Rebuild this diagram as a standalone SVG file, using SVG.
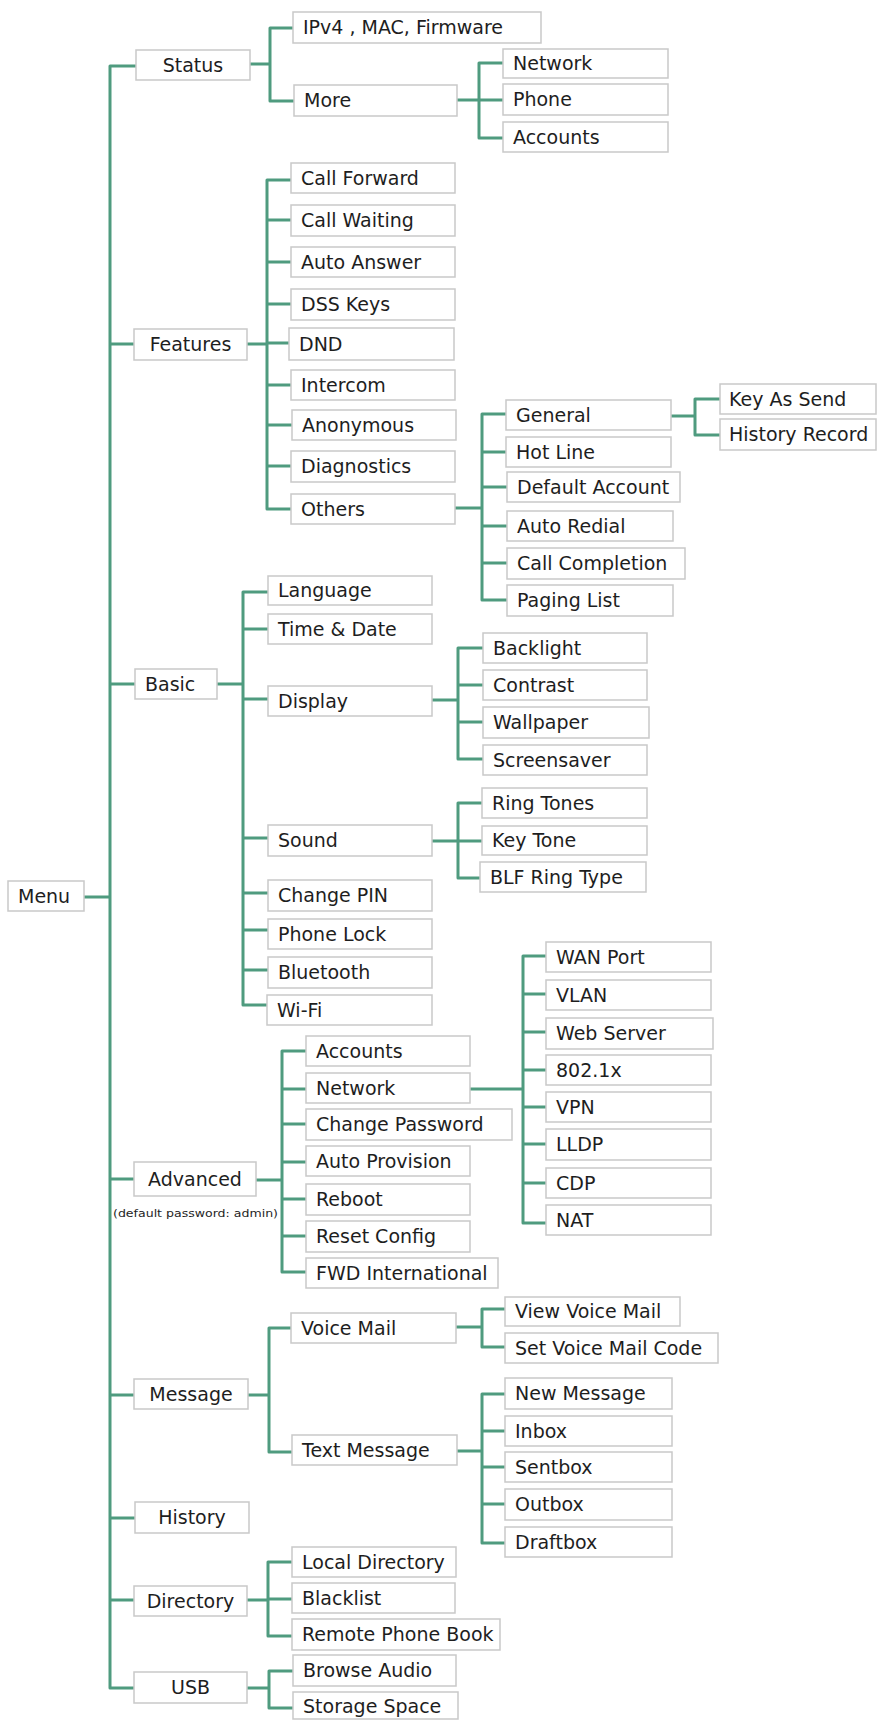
<svg xmlns="http://www.w3.org/2000/svg" width="877" height="1720" viewBox="0 0 877 1720">
<style>
.b{fill:#fff;stroke:#c9c9c9;stroke-width:1.5}
.t{font-family:"DejaVu Sans",sans-serif;font-size:19px;fill:#1e1e1e}
.c{text-anchor:middle}
.s{font-family:"DejaVu Sans",sans-serif;font-size:11px;fill:#1e1e1e}
#connectors path{fill:none;stroke:#4f9b7f;stroke-width:3;stroke-linejoin:round}
</style>
<rect width="877" height="1720" fill="#fff"/>
<g id="connectors">
<path d="M136,66 H110 V1688 H134 M110,344 H134 M110,684 H135 M84,897 H110 M110,1179 H134 M110,1395 H134 M110,1518 H135 M110,1600 H134"/>
<path d="M250,64 H270 M293,28 H270 V101 H294"/>
<path d="M457,100 H479 M503,63 H479 V138 H503 M479,100 H503"/>
<path d="M247,344 H267 M291,180 H267 V509 H291 M267,220 H291 M267,262 H291 M267,304 H291 M267,343 H289 M267,385 H291 M267,425 H292 M267,466 H291"/>
<path d="M455,508 H482 M506,414 H482 V600 H507 M482,452 H506 M482,487 H507 M482,526 H507 M482,563 H507"/>
<path d="M671,416 H695 M720,399 H695 V435 H720"/>
<path d="M217,684 H243 M268,592 H243 V1005 H267 M243,629 H268 M243,699 H268 M243,838 H268 M243,893 H268 M243,930 H268 M243,970 H268"/>
<path d="M432,700 H458 M483,648 H458 V759 H483 M458,685 H483 M458,722 H483"/>
<path d="M432,841 H458 M482,803 H458 V878 H480 M458,841 H482"/>
<path d="M256,1180 H282 M306,1051 H282 V1272 H306 M282,1089 H306 M282,1124 H306 M282,1162 H306 M282,1199 H306 M282,1236 H306"/>
<path d="M470,1089 H523 M546,956 H523 V1223 H546 M523,994 H546 M523,1032 H546 M523,1070 H546 M523,1107 H546 M523,1144 H546 M523,1183 H546"/>
<path d="M248,1395 H269 M291,1328 H269 V1452 H292"/>
<path d="M456,1327 H482 M505,1309 H482 V1347 H505"/>
<path d="M457,1451 H482 M505,1394 H482 V1543 H505 M482,1431 H505 M482,1467 H505 M482,1504 H505"/>
<path d="M247,1600 H268 M292,1562 H268 V1636 H292 M268,1599 H292"/>
<path d="M247,1688 H269 M293,1671 H269 V1708 H293"/>
</g>
<g id="n-menu"><rect class="b" x="8" y="881" width="76" height="30"/><text class="t" x="18" y="903">Menu</text></g>
<g id="n-status"><rect class="b" x="136" y="50" width="114" height="30"/><text class="t c" x="193" y="72">Status</text></g>
<g id="n-features"><rect class="b" x="134" y="329" width="113" height="31"/><text class="t c" x="190.5" y="351">Features</text></g>
<g id="n-basic"><rect class="b" x="135" y="669" width="82" height="30"/><text class="t" x="145" y="691">Basic</text></g>
<g id="n-advanced"><rect class="b" x="134" y="1162" width="122" height="34"/><text class="t c" x="195" y="1186">Advanced</text><text class="s" x="113" y="1217" textLength="165" lengthAdjust="spacingAndGlyphs">(default password: admin)</text></g>
<g id="n-message"><rect class="b" x="134" y="1379" width="114" height="30"/><text class="t c" x="191" y="1401">Message</text></g>
<g id="n-history"><rect class="b" x="135" y="1502" width="114" height="31"/><text class="t c" x="192" y="1524">History</text></g>
<g id="n-directory"><rect class="b" x="134" y="1586" width="113" height="30"/><text class="t c" x="190.5" y="1608">Directory</text></g>
<g id="n-usb"><rect class="b" x="134" y="1672" width="113" height="31"/><text class="t c" x="190.5" y="1694">USB</text></g>

<g id="n-ipv4"><rect class="b" x="293" y="12" width="248" height="31"/><text class="t" x="303" y="34">IPv4 , MAC, Firmware</text></g>
<g id="n-more"><rect class="b" x="294" y="85" width="163" height="31"/><text class="t" x="304" y="107">More</text></g>
<g id="n-more-network"><rect class="b" x="503" y="49" width="165" height="29"/><text class="t" x="513" y="70">Network</text></g>
<g id="n-more-phone"><rect class="b" x="503" y="84" width="165" height="31"/><text class="t" x="513" y="106">Phone</text></g>
<g id="n-more-accounts"><rect class="b" x="503" y="122" width="165" height="30"/><text class="t" x="513" y="144">Accounts</text></g>

<g id="n-callforward"><rect class="b" x="291" y="163" width="164" height="30"/><text class="t" x="301" y="185">Call Forward</text></g>
<g id="n-callwaiting"><rect class="b" x="291" y="205" width="164" height="31"/><text class="t" x="301" y="227">Call Waiting</text></g>
<g id="n-autoanswer"><rect class="b" x="291" y="247" width="164" height="30"/><text class="t" x="301" y="269">Auto Answer</text></g>
<g id="n-dsskeys"><rect class="b" x="291" y="289" width="164" height="31"/><text class="t" x="301" y="311">DSS Keys</text></g>
<g id="n-dnd"><rect class="b" x="289" y="328" width="165" height="32"/><text class="t" x="299" y="351">DND</text></g>
<g id="n-intercom"><rect class="b" x="291" y="370" width="164" height="30"/><text class="t" x="301" y="392">Intercom</text></g>
<g id="n-anonymous"><rect class="b" x="292" y="410" width="164" height="30"/><text class="t" x="302" y="432">Anonymous</text></g>
<g id="n-diagnostics"><rect class="b" x="291" y="451" width="164" height="31"/><text class="t" x="301" y="473">Diagnostics</text></g>
<g id="n-others"><rect class="b" x="291" y="494" width="164" height="30"/><text class="t" x="301" y="516">Others</text></g>

<g id="n-general"><rect class="b" x="506" y="400" width="165" height="30"/><text class="t" x="516" y="422">General</text></g>
<g id="n-hotline"><rect class="b" x="506" y="437" width="165" height="30"/><text class="t" x="516" y="459">Hot Line</text></g>
<g id="n-defaultaccount"><rect class="b" x="507" y="472" width="173" height="30"/><text class="t" x="517" y="494">Default Account</text></g>
<g id="n-autoredial"><rect class="b" x="507" y="511" width="166" height="30"/><text class="t" x="517" y="533">Auto Redial</text></g>
<g id="n-callcompletion"><rect class="b" x="507" y="548" width="178" height="31"/><text class="t" x="517" y="570">Call Completion</text></g>
<g id="n-paginglist"><rect class="b" x="507" y="585" width="166" height="31"/><text class="t" x="517" y="607">Paging List</text></g>
<g id="n-keyassend"><rect class="b" x="720" y="384" width="156" height="30"/><text class="t" x="729" y="406">Key As Send</text></g>
<g id="n-historyrecord"><rect class="b" x="720" y="419" width="156" height="31"/><text class="t" x="729" y="441">History Record</text></g>

<g id="n-language"><rect class="b" x="268" y="576" width="164" height="29"/><text class="t" x="278" y="597">Language</text></g>
<g id="n-timedate"><rect class="b" x="268" y="614" width="164" height="30"/><text class="t" x="278" y="636">Time &amp; Date</text></g>
<g id="n-display"><rect class="b" x="268" y="686" width="164" height="30"/><text class="t" x="278" y="708">Display</text></g>
<g id="n-sound"><rect class="b" x="268" y="825" width="164" height="31"/><text class="t" x="278" y="847">Sound</text></g>
<g id="n-changepin"><rect class="b" x="268" y="880" width="164" height="31"/><text class="t" x="278" y="902">Change PIN</text></g>
<g id="n-phonelock"><rect class="b" x="268" y="919" width="164" height="30"/><text class="t" x="278" y="941">Phone Lock</text></g>
<g id="n-bluetooth"><rect class="b" x="268" y="957" width="164" height="31"/><text class="t" x="278" y="979">Bluetooth</text></g>
<g id="n-wifi"><rect class="b" x="267" y="995" width="165" height="30"/><text class="t" x="277" y="1017">Wi-Fi</text></g>

<g id="n-backlight"><rect class="b" x="483" y="633" width="164" height="30"/><text class="t" x="493" y="655">Backlight</text></g>
<g id="n-contrast"><rect class="b" x="483" y="670" width="164" height="30"/><text class="t" x="493" y="692">Contrast</text></g>
<g id="n-wallpaper"><rect class="b" x="483" y="707" width="166" height="31"/><text class="t" x="493" y="729">Wallpaper</text></g>
<g id="n-screensaver"><rect class="b" x="483" y="745" width="164" height="30"/><text class="t" x="493" y="767">Screensaver</text></g>
<g id="n-ringtones"><rect class="b" x="482" y="788" width="165" height="30"/><text class="t" x="492" y="810">Ring Tones</text></g>
<g id="n-keytone"><rect class="b" x="482" y="826" width="165" height="29"/><text class="t" x="492" y="847">Key Tone</text></g>
<g id="n-blfringtype"><rect class="b" x="480" y="862" width="166" height="30"/><text class="t" x="490" y="884">BLF Ring Type</text></g>

<g id="n-adv-accounts"><rect class="b" x="306" y="1036" width="164" height="30"/><text class="t" x="316" y="1058">Accounts</text></g>
<g id="n-adv-network"><rect class="b" x="306" y="1073" width="164" height="30"/><text class="t" x="316" y="1095">Network</text></g>
<g id="n-changepassword"><rect class="b" x="306" y="1109" width="206" height="31"/><text class="t" x="316" y="1131">Change Password</text></g>
<g id="n-autoprovision"><rect class="b" x="306" y="1146" width="164" height="30"/><text class="t" x="316" y="1168">Auto Provision</text></g>
<g id="n-reboot"><rect class="b" x="306" y="1184" width="164" height="31"/><text class="t" x="316" y="1206">Reboot</text></g>
<g id="n-resetconfig"><rect class="b" x="306" y="1221" width="164" height="31"/><text class="t" x="316" y="1243">Reset Config</text></g>
<g id="n-fwdinternational"><rect class="b" x="306" y="1258" width="192" height="30"/><text class="t" x="316" y="1280">FWD International</text></g>

<g id="n-wanport"><rect class="b" x="546" y="942" width="165" height="30"/><text class="t" x="556" y="964">WAN Port</text></g>
<g id="n-vlan"><rect class="b" x="546" y="980" width="165" height="30"/><text class="t" x="556" y="1002">VLAN</text></g>
<g id="n-webserver"><rect class="b" x="546" y="1018" width="167" height="31"/><text class="t" x="556" y="1040">Web Server</text></g>
<g id="n-8021x"><rect class="b" x="546" y="1055" width="165" height="30"/><text class="t" x="556" y="1077">802.1x</text></g>
<g id="n-vpn"><rect class="b" x="546" y="1092" width="165" height="30"/><text class="t" x="556" y="1114">VPN</text></g>
<g id="n-lldp"><rect class="b" x="546" y="1129" width="165" height="31"/><text class="t" x="556" y="1151">LLDP</text></g>
<g id="n-cdp"><rect class="b" x="546" y="1168" width="165" height="30"/><text class="t" x="556" y="1190">CDP</text></g>
<g id="n-nat"><rect class="b" x="546" y="1205" width="165" height="30"/><text class="t" x="556" y="1227">NAT</text></g>

<g id="n-voicemail"><rect class="b" x="291" y="1313" width="165" height="30"/><text class="t" x="301" y="1335">Voice Mail</text></g>
<g id="n-textmessage"><rect class="b" x="292" y="1435" width="165" height="30"/><text class="t" x="302" y="1457">Text Message</text></g>
<g id="n-viewvoicemail"><rect class="b" x="505" y="1297" width="175" height="29"/><text class="t" x="515" y="1318">View Voice Mail</text></g>
<g id="n-setvoicemailcode"><rect class="b" x="505" y="1333" width="213" height="30"/><text class="t" x="515" y="1355">Set Voice Mail Code</text></g>
<g id="n-newmessage"><rect class="b" x="505" y="1378" width="167" height="31"/><text class="t" x="515" y="1400">New Message</text></g>
<g id="n-inbox"><rect class="b" x="505" y="1416" width="167" height="30"/><text class="t" x="515" y="1438">Inbox</text></g>
<g id="n-sentbox"><rect class="b" x="505" y="1452" width="167" height="30"/><text class="t" x="515" y="1474">Sentbox</text></g>
<g id="n-outbox"><rect class="b" x="505" y="1489" width="167" height="31"/><text class="t" x="515" y="1511">Outbox</text></g>
<g id="n-draftbox"><rect class="b" x="505" y="1527" width="167" height="30"/><text class="t" x="515" y="1549">Draftbox</text></g>

<g id="n-localdirectory"><rect class="b" x="292" y="1547" width="164" height="30"/><text class="t" x="302" y="1569">Local Directory</text></g>
<g id="n-blacklist"><rect class="b" x="292" y="1583" width="163" height="30"/><text class="t" x="302" y="1605">Blacklist</text></g>
<g id="n-remotephonebook"><rect class="b" x="292" y="1619" width="208" height="31"/><text class="t" x="302" y="1641">Remote Phone Book</text></g>
<g id="n-browseaudio"><rect class="b" x="293" y="1655" width="163" height="31"/><text class="t" x="303" y="1677">Browse Audio</text></g>
<g id="n-storagespace"><rect class="b" x="293" y="1692" width="165" height="27"/><text class="t" x="303" y="1713">Storage Space</text></g>
</svg>
